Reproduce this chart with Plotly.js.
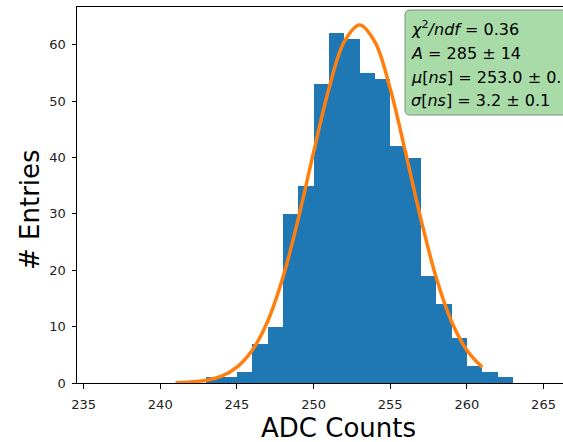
<!DOCTYPE html>
<html>
<head>
<meta charset="utf-8">
<script src="https://cdn.plot.ly/plotly-3.0.1.min.js"></script>
<style>html,body{margin:0;padding:0;background:#fff;}#chart{width:563px;height:442px;}</style>
</head>
<body>
<div id="chart"></div>
<script>
// Histogram bins (left edges, width 1) and counts
var binLeft = [243, 244, 245, 246, 247, 248, 249, 250, 251, 252, 253, 254, 255, 256, 257, 258, 259, 260, 261, 262];
var counts  = [1,   1,   2,   7,   10,  30,  35,  53,  62,  61,  55,  54,  42,  40,  19,  14,  8,   3,   2,   1];

// Fitted curve
var fitX = [241, 242, 243, 244, 245, 246, 247, 248, 249, 250, 251, 252, 253, 254, 255, 256, 257, 258, 259, 260, 261];
var fitY = [0.06, 0.17, 0.48, 1.2, 2.8, 5.8, 10.9, 18.7, 29.1, 40.9, 52.2, 60.5, 63.5, 60.5, 52.2, 40.9, 29.1, 18.7, 10.9, 5.8, 2.8];

var xTicks = [235, 240, 245, 250, 255, 260, 265];
var yTicks = [0, 10, 20, 30, 40, 50, 60];

var fitLines = [
  '<i>χ</i><sup>2</sup><i>/ndf</i> = 0.36',
  '<i>A</i> = 285 ± 14',
  '<i>μ</i>[<i>ns</i>] = 253.0 ± 0.1',
  '<i>σ</i>[<i>ns</i>] = 3.2 ± 0.1'
];

var W = 563, H = 442;
var mL = 77, mT = 7, mB = 59, mR = 0;
var pw = W - mL - mR, ph = H - mT - mB;
function px(x) { return (x - mL) / pw; }
function py(y) { return (H - mB - y) / ph; }

var traces = [
  {
    type: 'bar',
    x: binLeft,
    y: counts,
    width: 1,
    offset: 0,
    marker: {color: '#1f77b4', line: {width: 0}},
    hoverinfo: 'skip'
  },
  {
    type: 'scatter',
    mode: 'lines',
    x: fitX,
    y: fitY,
    line: {color: '#ff7f0e', width: 3.5, shape: 'spline', smoothing: 1},
    hoverinfo: 'skip'
  }
];

// rounded box (paper coords)
var bx0 = px(405), bx1 = 1.3, by0 = py(115), by1 = py(10);
var rx = 5 / pw, ry = 5 / ph;
var boxPath = 'M ' + (bx0 + rx) + ',' + by1 + ' L ' + bx1 + ',' + by1 + ' L ' + bx1 + ',' + by0 +
  ' L ' + (bx0 + rx) + ',' + by0 + ' Q ' + bx0 + ',' + by0 + ' ' + bx0 + ',' + (by0 + ry) +
  ' L ' + bx0 + ',' + (by1 - ry) + ' Q ' + bx0 + ',' + by1 + ' ' + (bx0 + rx) + ',' + by1 + ' Z';

var lineY = [28.5, 53, 77, 100.5];
var annotations = fitLines.map(function (t, i) {
  return {
    xref: 'paper', yref: 'paper', x: px(409), y: py(lineY[i]),
    xanchor: 'left', yanchor: 'middle', showarrow: false, align: 'left',
    text: t, font: {family: 'DejaVu Sans', size: 16, color: '#000'}
  };
});
annotations.push({
  xref: 'paper', yref: 'paper', x: px(338), y: py(428), xanchor: 'center', yanchor: 'middle',
  showarrow: false, text: 'ADC Counts', font: {family: 'DejaVu Sans', size: 26, color: '#000'}
});
annotations.push({
  xref: 'paper', yref: 'paper', x: px(30), y: py(210), xanchor: 'center', yanchor: 'middle',
  showarrow: false, textangle: -90, text: '# Entries', font: {family: 'DejaVu Sans', size: 26, color: '#000'}
});

var layout = {
  width: W, height: H,
  margin: {l: mL, r: mR, t: mT, b: mB, pad: 0},
  paper_bgcolor: '#fff', plot_bgcolor: '#fff',
  showlegend: false,
  bargap: 0,
  font: {family: 'DejaVu Sans', size: 13, color: '#000'},
  xaxis: {
    range: [234.57, 266.27], tickvals: xTicks, ticktext: xTicks.map(String),
    ticks: 'outside', ticklen: 4.5, tickwidth: 1, tickcolor: '#000',
    showline: true, linecolor: '#000', linewidth: 1, mirror: true,
    showgrid: false, zeroline: false, ticklabelstandoff: 5,
    tickfont: {family: 'DejaVu Sans', size: 13, color: '#222'}
  },
  yaxis: {
    range: [0, 66.7], tickvals: yTicks, ticktext: yTicks.map(String),
    ticks: 'outside', ticklen: 4.5, tickwidth: 1, tickcolor: '#000',
    showline: true, linecolor: '#000', linewidth: 1,
    showgrid: false, zeroline: false, ticklabelstandoff: 3,
    tickfont: {family: 'DejaVu Sans', size: 13, color: '#222'}
  },
  shapes: [{
    type: 'path', xref: 'paper', yref: 'paper', path: boxPath,
    fillcolor: 'rgb(168,219,168)', line: {color: 'rgb(125,145,125)', width: 1}, layer: 'above'
  }],
  annotations: annotations
};

Plotly.newPlot('chart', traces, layout, {staticPlot: true, displayModeBar: false});
</script>
</body>
</html>
